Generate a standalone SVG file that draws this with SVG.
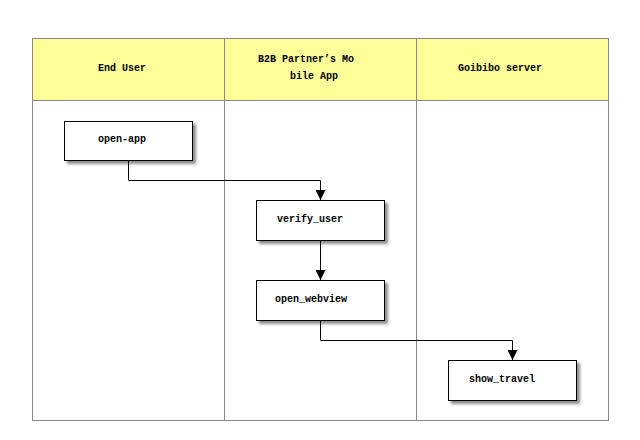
<svg xmlns="http://www.w3.org/2000/svg" width="640" height="440" viewBox="0 0 640 440">
<style>
.lane{fill:#ffffff;stroke:#888888;stroke-width:1}
.head{fill:#ffff99;stroke:#888888;stroke-width:1}
.box{fill:#ffffff;stroke:#000000;stroke-width:1;filter:url(#sh)}
.t{font-family:"Liberation Mono","DejaVu Sans Mono",monospace;font-size:10px;font-weight:bold;fill:#000000}
.edge{fill:none;stroke:#000000;stroke-width:1;marker-end:url(#arr)}
</style>
<defs>
<filter id="sh" x="-10%" y="-20%" width="130%" height="150%">
<feDropShadow dx="3" dy="3" stdDeviation="1.5" flood-color="#000000" flood-opacity="0.45"/>
</filter>
<marker id="arr" viewBox="0 0 10 10" refX="10" refY="5" markerWidth="10" markerHeight="10" markerUnits="userSpaceOnUse" orient="auto">
<path d="M0,0 L10,5 L0,10 z" fill="#000000"/>
</marker>
</defs>
<rect x="0" y="0" width="640" height="440" fill="#ffffff"/>
<g id="lane-end-user">
<rect class="lane" x="32.5" y="38.5" width="192" height="382"/>
<rect class="head" x="32.5" y="38.5" width="192" height="62"/>
<text class="t" x="98" y="71">End User</text>
</g>
<g id="lane-b2b">
<rect class="lane" x="224.5" y="38.5" width="192" height="382"/>
<rect class="head" x="224.5" y="38.5" width="192" height="62"/>
<text class="t" x="258" y="62">B2B Partner’s Mo</text>
<text class="t" x="290" y="79">bile App</text>
</g>
<g id="lane-goibibo">
<rect class="lane" x="416.5" y="38.5" width="192" height="382"/>
<rect class="head" x="416.5" y="38.5" width="192" height="62"/>
<text class="t" x="458" y="71">Goibibo server</text>
</g>
<g id="connectors">
<path class="edge" d="M128.5,160.5 V180.5 H320.5 V200"/>
<path class="edge" d="M320.5,240.5 V280"/>
<path class="edge" d="M320.5,320.5 V340.5 H512.5 V360"/>
</g>
<g id="open-app">
<rect class="box" x="64.5" y="121.5" width="128" height="39"/>
<text class="t" x="98" y="142">open-app</text>
</g>
<g id="verify_user">
<rect class="box" x="256.5" y="200.5" width="128" height="40"/>
<text class="t" x="277" y="222">verify_user</text>
</g>
<g id="open_webview">
<rect class="box" x="256.5" y="280.5" width="128" height="40"/>
<text class="t" x="275" y="302">open_webview</text>
</g>
<g id="show_travel">
<rect class="box" x="448.5" y="360.5" width="128" height="40"/>
<text class="t" x="469" y="382">show_travel</text>
</g>
</svg>
